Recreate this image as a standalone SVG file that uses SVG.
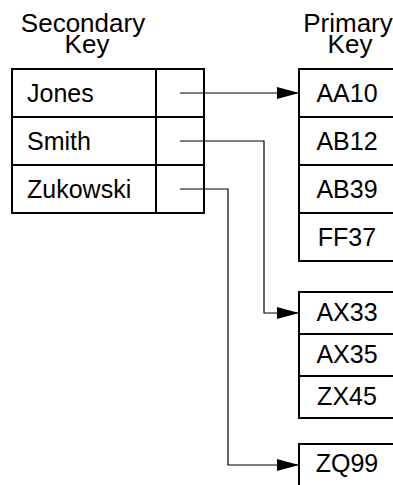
<svg xmlns="http://www.w3.org/2000/svg" width="393" height="485" viewBox="0 0 393 485">
<style>
text{font-family:"Liberation Sans",Arial,sans-serif;font-size:25px;fill:#000}
.h{font-size:26px;text-anchor:middle}
.c{text-anchor:middle}
.box{fill:#fff;stroke:#000;stroke-width:2}
.ln{stroke:#000;stroke-width:2}
.conn{fill:none;stroke:#000;stroke-width:1.2}
</style>
<defs>
<marker id="ah" markerUnits="userSpaceOnUse" markerWidth="22" markerHeight="12" refX="22" refY="6" orient="auto">
<path d="M0,0 L22,6 L0,12 Z" fill="#000"/>
</marker>
</defs>
<rect width="393" height="485" fill="#fff"/>
<g id="secondary-header">
<text class="h" x="83" y="32">Secondary</text>
<text class="h" x="87" y="53">Key</text>
</g>
<g id="primary-header">
<text class="h" x="348" y="32">Primary</text>
<text class="h" x="350" y="53">Key</text>
</g>
<g id="secondary-table">
<rect class="box" x="12" y="69" width="192" height="144"/>
<line class="ln" x1="156" y1="69" x2="156" y2="213"/>
<line class="ln" x1="12" y1="117" x2="204" y2="117"/>
<line class="ln" x1="12" y1="165" x2="204" y2="165"/>
<text x="27" y="102">Jones</text>
<text x="27" y="150">Smith</text>
<text x="27" y="198">Zukowski</text>
</g>
<g id="primary-block-1">
<rect class="box" x="299" y="69" width="100" height="192"/>
<line class="ln" x1="299" y1="117" x2="399" y2="117"/>
<line class="ln" x1="299" y1="165" x2="399" y2="165"/>
<line class="ln" x1="299" y1="213" x2="399" y2="213"/>
<text class="c" x="347" y="102">AA10</text>
<text class="c" x="347" y="150">AB12</text>
<text class="c" x="347" y="198">AB39</text>
<text class="c" x="347" y="246">FF37</text>
</g>
<g id="primary-block-2">
<rect class="box" x="299" y="292" width="100" height="126"/>
<line class="ln" x1="299" y1="334" x2="399" y2="334"/>
<line class="ln" x1="299" y1="376" x2="399" y2="376"/>
<text class="c" x="347" y="321">AX33</text>
<text class="c" x="347" y="363">AX35</text>
<text class="c" x="347" y="405">ZX45</text>
</g>
<g id="primary-block-3">
<rect class="box" x="299" y="444" width="100" height="60"/>
<text class="c" x="347" y="472">ZQ99</text>
</g>
<g id="connectors">
<path class="conn" d="M180,93 H299" marker-end="url(#ah)"/>
<path class="conn" d="M180,141 H264 V313 H299" marker-end="url(#ah)"/>
<path class="conn" d="M180,189 H228 V465 H299" marker-end="url(#ah)"/>
</g>
</svg>
